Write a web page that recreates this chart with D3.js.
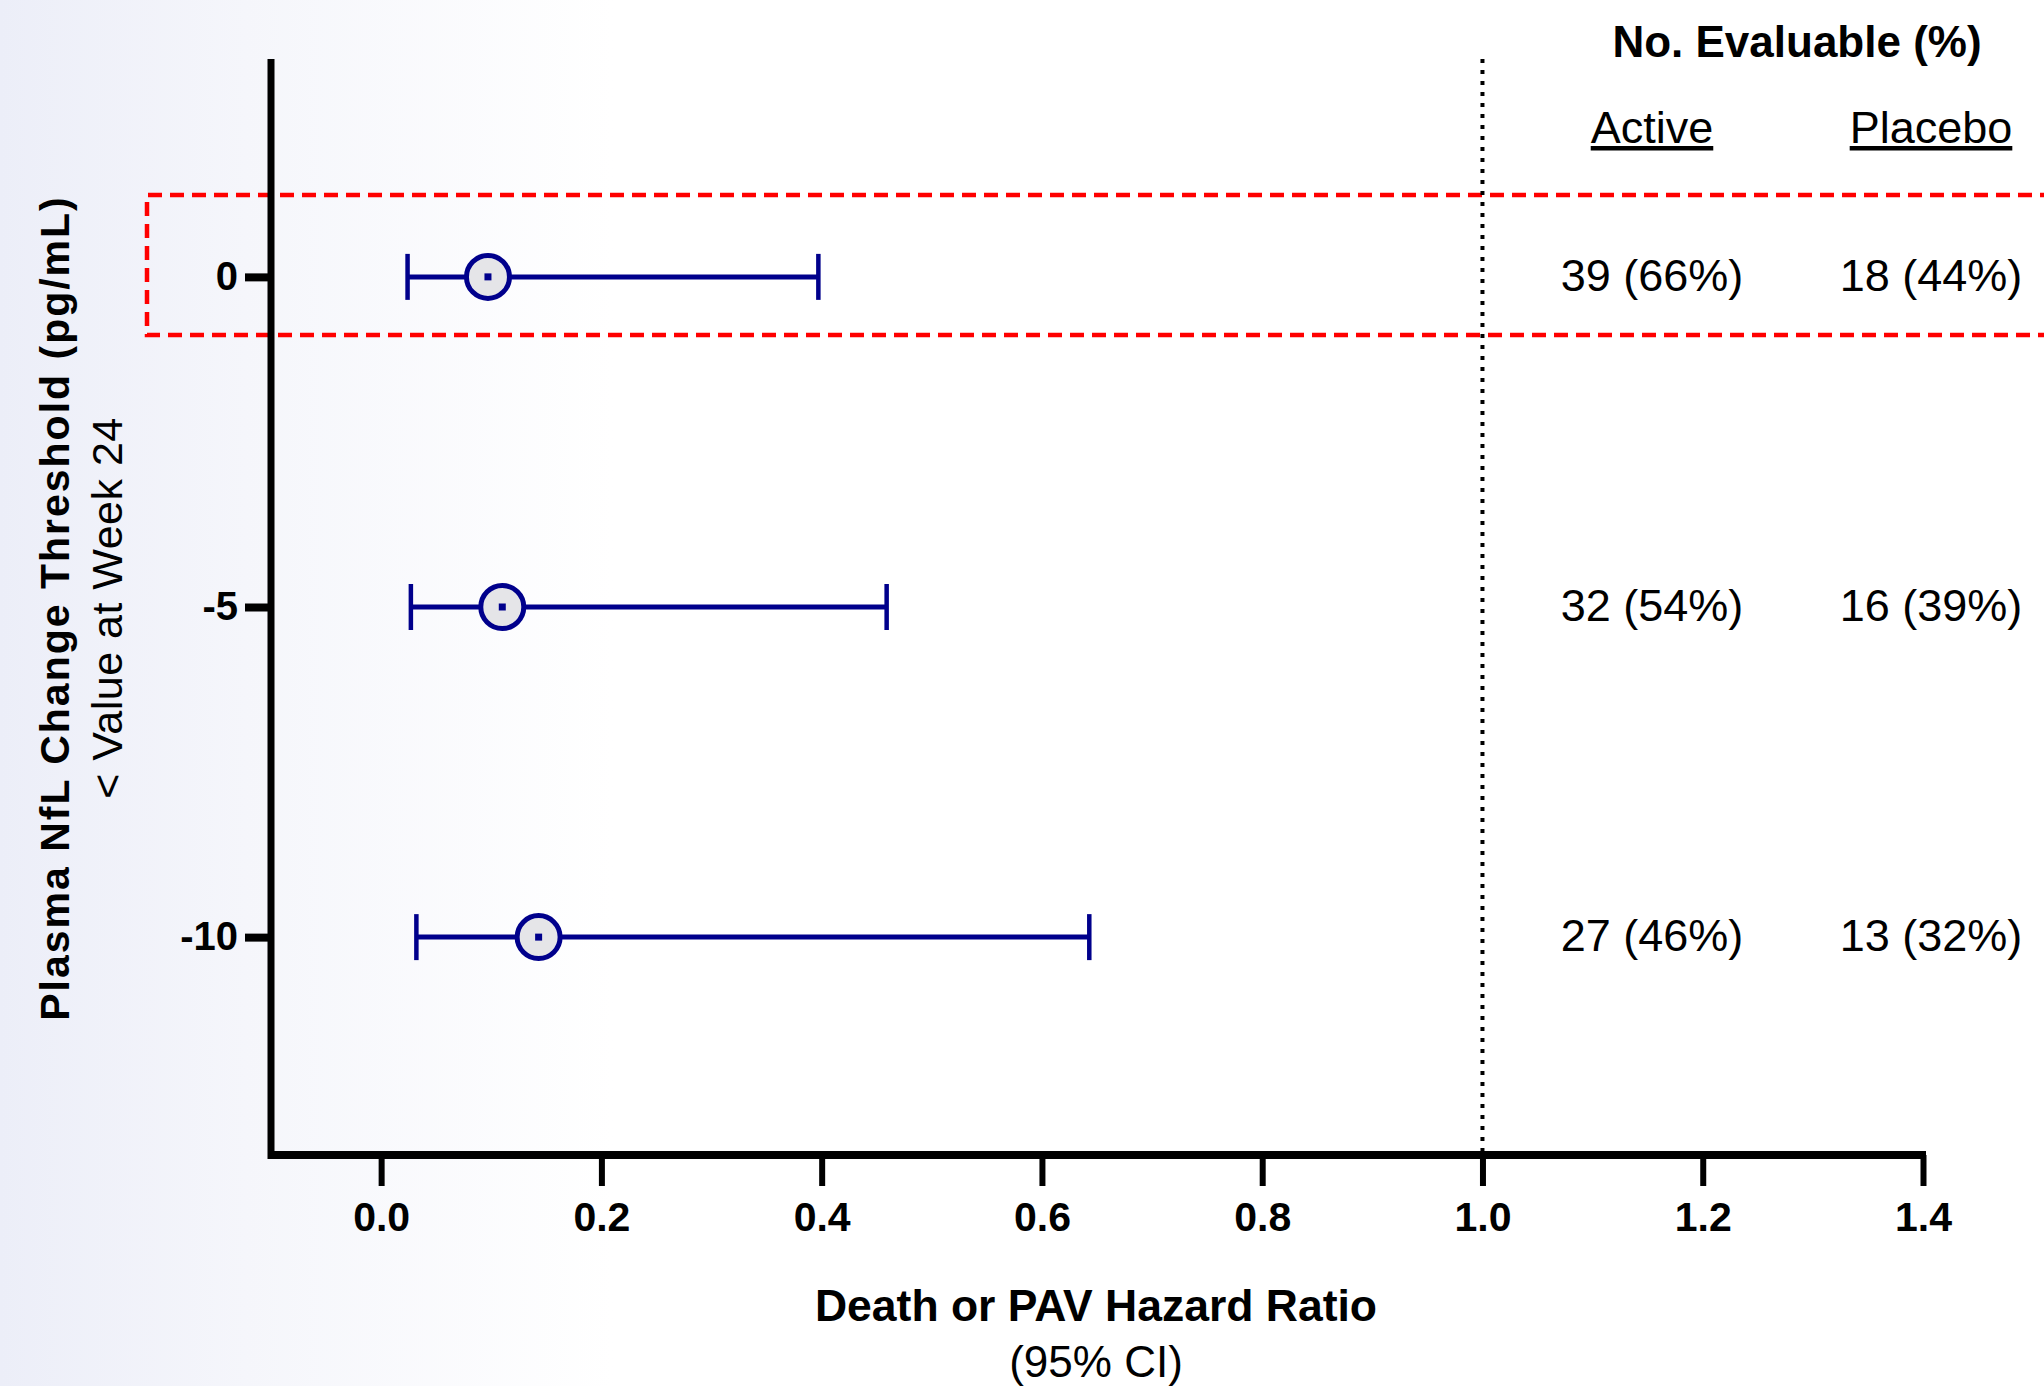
<!DOCTYPE html>
<html>
<head>
<meta charset="utf-8">
<script src="https://cdn.jsdelivr.net/npm/d3@7"></script>
<style>
  html, body { margin: 0; padding: 0; background: #fff; }
  svg { display: block; font-family: "Liberation Sans", Arial, sans-serif; }
</style>
</head>
<body>
<div id="chart"></div>
<script>
// thresholds (pg/mL) and hazard ratios with 95% CI
const thresholds = [0, -5, -10];
const hazardRatio = [0.097, 0.110, 0.143];
const ciLower = [0.024, 0.027, 0.032];
const ciUpper = [0.397, 0.459, 0.643];
const activeN = ["39 (66%)", "32 (54%)", "27 (46%)"];
const placeboN = ["18 (44%)", "16 (39%)", "13 (32%)"];
const xTicks = [0, 0.2, 0.4, 0.6, 0.8, 1.0, 1.2, 1.4];

function renderForest(){
    const W = 2044, H = 1386;
    const navy = "#00008c";

    const svg = d3.select("#chart").append("svg")
        .attr("width", W)
        .attr("height", H);

    const defs = svg.append("defs");
    const grad = defs.append("linearGradient").attr("id", "bg").attr("x1", 0).attr("x2", 1);
    grad.append("stop").attr("offset", "0").attr("stop-color", "#eceef8");
    grad.append("stop").attr("offset", "0.12").attr("stop-color", "#f5f6fb");
    grad.append("stop").attr("offset", "0.3").attr("stop-color", "#ffffff");
    svg.append("rect").attr("width", W).attr("height", H).attr("fill", "url(#bg)");

    const x = d3.scaleLinear().domain([-0.1, 1.4]).range([271, 1923]);
    const y = d3.scaleLinear().domain([-13.3, 3.3]).range([1155, 59]);

    // red highlight box around the 0 row
    svg.append("path")
        .attr("d", `M${W + 10},${y(0) - 82} H147 V${y(0) + 58} H${W + 10}`)
        .attr("fill", "none")
        .attr("stroke", "#ff0000")
        .attr("stroke-width", 4.5)
        .attr("stroke-dasharray", "14,8");

    // reference line at HR = 1
    svg.append("line")
        .attr("x1", x(1)).attr("x2", x(1))
        .attr("y1", 59).attr("y2", 1155)
        .attr("stroke", "#000")
        .attr("stroke-width", 4)
        .attr("stroke-dasharray", "4,7");

    // axes
    const xAxis = svg.append("g")
        .attr("transform", "translate(0,1155)")
        .call(d3.axisBottom(x).tickValues(xTicks).tickSize(31).tickSizeOuter(0).tickFormat(d3.format(".1f")));
    xAxis.select(".domain").attr("stroke", "#000").attr("stroke-width", 8).attr("d", `M${271 - 3},0H${1923 + 3}`);
    xAxis.selectAll(".tick line").attr("stroke", "#000").attr("stroke-width", 6);
    xAxis.selectAll(".tick text")
        .attr("y", 62)
        .attr("dy", "0.35em")
        .attr("font-size", 41)
        .attr("font-weight", "bold")
        .attr("font-family", "Liberation Sans, Arial, sans-serif")
        .attr("fill", "#000");

    const yAxis = svg.append("g")
        .attr("transform", "translate(271,0)")
        .call(d3.axisLeft(y).tickValues(thresholds).tickSize(26).tickSizeOuter(0).tickFormat(d => String(d)));
    yAxis.select(".domain").attr("stroke", "#000").attr("stroke-width", 7).attr("d", `M0,59V${1155 + 4}`);
    yAxis.selectAll(".tick line").attr("stroke", "#000").attr("stroke-width", 8);
    yAxis.selectAll(".tick text")
        .attr("x", -33)
        .attr("font-size", 40)
        .attr("font-weight", "bold")
        .attr("font-family", "Liberation Sans, Arial, sans-serif")
        .attr("fill", "#000");

    // forest rows
    const rows = thresholds.map((t, i) => ({ t, hr: hazardRatio[i], lo: ciLower[i], hi: ciUpper[i] }));
    const row = svg.append("g").selectAll("g").data(rows).enter().append("g");
    row.append("line")
        .attr("x1", d => x(d.lo)).attr("x2", d => x(d.hi))
        .attr("y1", d => y(d.t)).attr("y2", d => y(d.t))
        .attr("stroke", navy).attr("stroke-width", 5);
    row.selectAll(".cap").data(d => [[d.lo, d.t], [d.hi, d.t]]).enter().append("line")
        .attr("x1", d => x(d[0])).attr("x2", d => x(d[0]))
        .attr("y1", d => y(d[1]) - 23).attr("y2", d => y(d[1]) + 23)
        .attr("stroke", navy).attr("stroke-width", 4.5);
    row.append("circle")
        .attr("cx", d => x(d.hr)).attr("cy", d => y(d.t))
        .attr("r", 21.5)
        .attr("fill", "#e5e5e8")
        .attr("stroke", navy).attr("stroke-width", 5);
    row.append("rect")
        .attr("x", d => x(d.hr) - 3.5).attr("y", d => y(d.t) - 3.5)
        .attr("width", 7).attr("height", 7)
        .attr("fill", navy);

    // table on the right
    svg.append("text")
        .attr("x", 1797).attr("y", 57)
        .attr("text-anchor", "middle")
        .attr("font-size", 44).attr("font-weight", "bold")
        .text("No. Evaluable (%)");
    const cols = [{ label: "Active", cx: 1652, vals: activeN }, { label: "Placebo", cx: 1931, vals: placeboN }];
    cols.forEach(c => {
        svg.append("text")
            .attr("x", c.cx).attr("y", 143)
            .attr("text-anchor", "middle")
            .attr("font-size", 45)
            .attr("text-decoration", "underline")
            .text(c.label);
        svg.append("g").selectAll("text").data(c.vals).enter().append("text")
            .attr("x", c.cx)
            .attr("y", (d, i) => y(thresholds[i]) - 2)
            .attr("dy", "0.35em")
            .attr("text-anchor", "middle")
            .attr("font-size", 45)
            .text(d => d);
    });

    // axis titles
    svg.append("text")
        .attr("x", 1096).attr("y", 1305).attr("dy", "0.35em")
        .attr("text-anchor", "middle")
        .attr("font-size", 44.5).attr("font-weight", "bold")
        .text("Death or PAV Hazard Ratio");
    svg.append("text")
        .attr("x", 1096).attr("y", 1362).attr("dy", "0.35em")
        .attr("text-anchor", "middle")
        .attr("font-size", 44)
        .text("(95% CI)");

    svg.append("text")
        .attr("transform", "translate(55,608) rotate(-90)")
        .attr("dy", "0.35em")
        .attr("text-anchor", "middle")
        .attr("font-size", 41).attr("font-weight", "bold")
        .attr("letter-spacing", 2)
        .text("Plasma NfL Change Threshold (pg/mL)");
    svg.append("text")
        .attr("transform", "translate(107,608) rotate(-90)")
        .attr("dy", "0.35em")
        .attr("text-anchor", "middle")
        .attr("font-size", 43)
        .attr("letter-spacing", 0.5)
        .text("< Value at Week 24");
}
renderForest();
</script>
</body>
</html>
